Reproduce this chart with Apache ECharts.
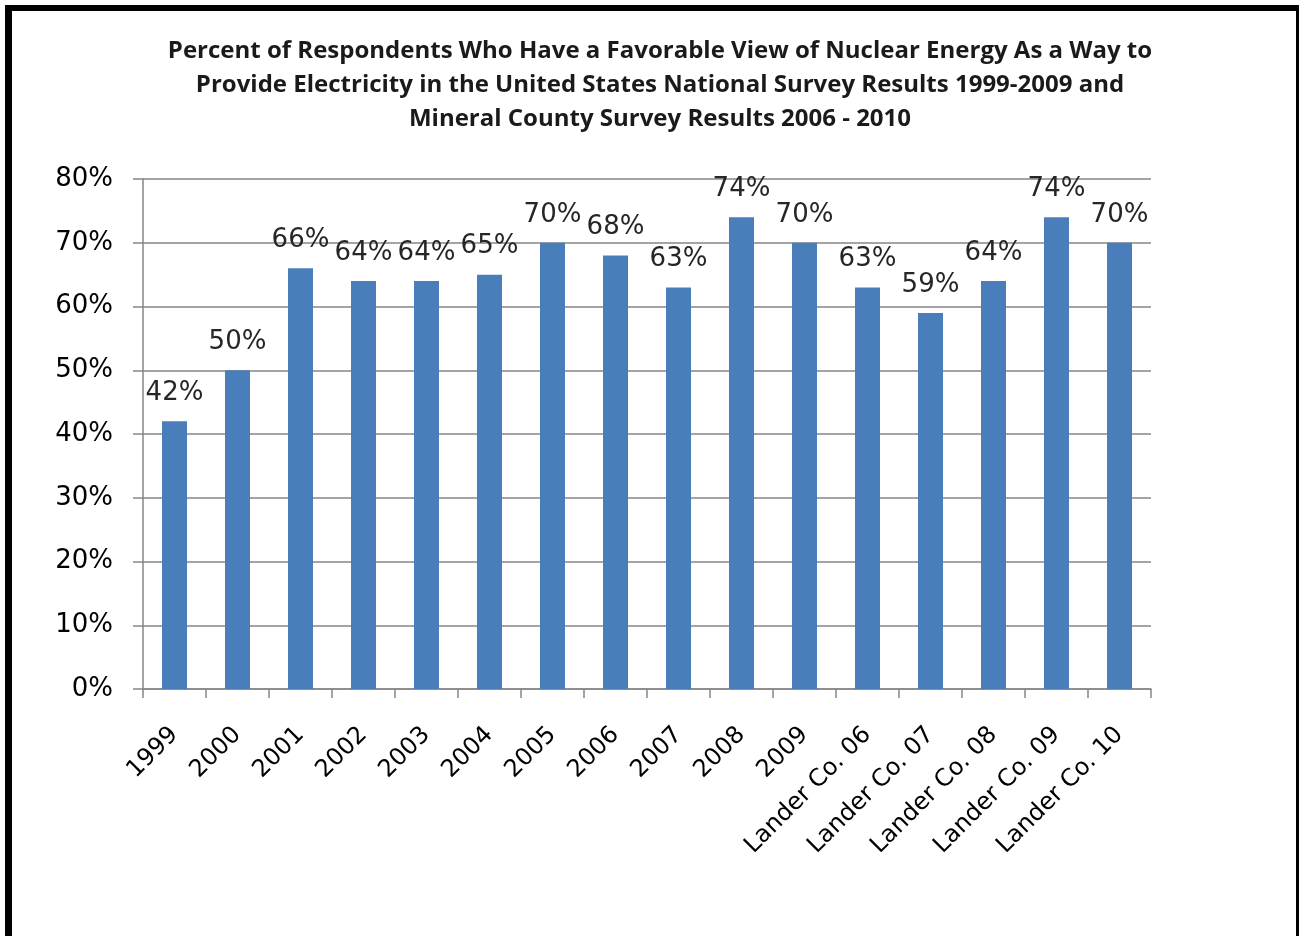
<!DOCTYPE html>
<html>
<head>
<meta charset="utf-8">
<script src="https://cdn.jsdelivr.net/npm/echarts@6/dist/echarts.min.js"></script>
<style>
  html, body { margin: 0; padding: 0; background: #fff; }
  #main { width: 1299px; height: 936px; }
</style>
</head>
<body>
<div id="main"></div>
<script>
// categories on the x axis
const categories = ['1999', '2000', '2001', '2002', '2003', '2004', '2005', '2006', '2007', '2008', '2009',
  'Lander Co. 06', 'Lander Co. 07', 'Lander Co. 08', 'Lander Co. 09', 'Lander Co. 10']
// percent favourable
const favorable = [42, 50, 66, 64, 64, 65, 70, 68, 63, 74, 70, 63, 59, 64, 74, 70]
const yTicks = [0, 10, 20, 30, 40, 50, 60, 70, 80]

const titleText = 'Percent of Respondents Who Have a Favorable View of Nuclear Energy As a Way to\n' +
  'Provide Electricity in the United States National Survey Results 1999-2009 and\n' +
  'Mineral County Survey Results 2006 - 2010'

let myChart = echarts.init(document.getElementById('main'))
let option = {
  backgroundColor: '#fff',
  animation: false,
  title: {
    text: titleText,
    left: 655,
    textAlign: 'center',
    top: 29,
    textStyle: {
      fontFamily: 'Open Sans',
      fontWeight: 'bold',
      fontSize: 24,
      lineHeight: 34,
      color: '#1a1a1a',
    },
  },
  graphic: [
    // frame around the picture
    { type: 'rect', shape: { x: 5, y: 5, width: 1294, height: 6 }, style: { fill: '#000' } },
    { type: 'rect', shape: { x: 5, y: 5, width: 7, height: 931 }, style: { fill: '#000' } },
    { type: 'rect', shape: { x: 1296, y: 5, width: 3, height: 931 }, style: { fill: '#000' } },
  ],
  grid: {
    left: 143,
    right: 148,
    top: 179,
    bottom: 247,
    containLabel: false,
  },
  xAxis: {
    type: 'category',
    data: categories,
    axisLine: { lineStyle: { color: '#868686', width: 1.5 } },
    axisTick: { show: true, length: 9, lineStyle: { color: '#868686', width: 1.5 } },
    axisLabel: {
      rotate: 45,
      interval: 0,
      margin: 42,
      fontFamily: 'DejaVu Sans',
      fontSize: 24,
      color: '#000',
    },
  },
  yAxis: {
    type: 'value',
    min: 0,
    max: 80,
    interval: 10,
    axisLine: { show: true, lineStyle: { color: '#868686', width: 1.5 } },
    axisTick: { show: true, length: 10, lineStyle: { color: '#868686', width: 1.5 } },
    splitLine: { lineStyle: { color: '#868686', width: 1.5 } },
    axisLabel: {
      margin: 30,
      fontFamily: 'DejaVu Sans',
      fontSize: 26,
      color: '#000',
      formatter: (v) => (yTicks.indexOf(v) >= 0 ? v + '%' : ''),
    },
  },
  series: [
    {
      name: 'Favorable',
      type: 'bar',
      data: favorable,
      barWidth: 25,
      itemStyle: { color: '#4a7ebb' },
      label: {
        show: true,
        position: 'top',
        distance: 15,
        fontFamily: 'DejaVu Sans',
        fontSize: 26,
        color: '#262626',
        formatter: '{c}%',
      },
    },
  ],
}
myChart.setOption(option) // 绘制画布
</script>
</body>
</html>
